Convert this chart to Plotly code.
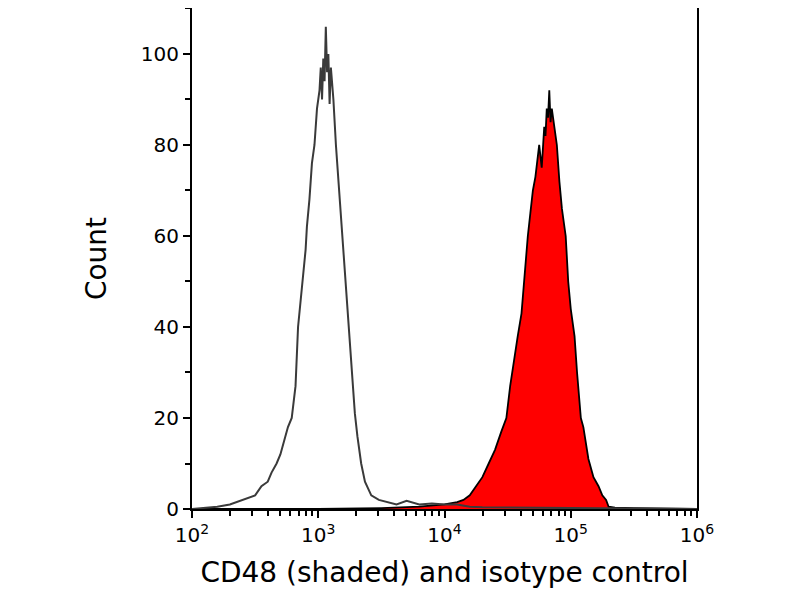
import plotly.graph_objects as go

# isotype control (unshaded), log10 fluorescence vs count
iso_logx = [2.0, 2.1, 2.2, 2.3, 2.35, 2.4, 2.45, 2.5, 2.55, 2.6, 2.63, 2.67, 2.7, 2.73, 2.76, 2.79, 2.82, 2.84,
            2.87, 2.9, 2.91, 2.93, 2.95, 2.97, 2.99, 3.01, 3.02, 3.03, 3.04, 3.05, 3.06, 3.07, 3.08, 3.09, 3.1,
            3.12, 3.14, 3.16, 3.19, 3.21, 3.23, 3.25, 3.27, 3.29, 3.31, 3.34, 3.37, 3.42, 3.48, 3.55, 3.62,
            3.7, 3.8, 3.9, 4.0, 4.1, 4.2, 4.3, 4.5, 4.8, 5.0, 5.5, 6.0]
iso_y = [0, 0.3, 0.5, 1, 1.5, 2, 2.5, 3, 5, 6, 8, 10, 12, 15, 18, 20, 27, 40,
         48, 57, 62, 68, 76, 80, 88, 92, 97, 90, 99, 94, 106, 96, 100, 89, 97,
         90, 80, 72, 60, 54, 46, 38, 30, 21, 16, 10, 6, 3, 2, 1.5, 1,
         1.8, 1, 1.2, 1, 1, 0.5, 0.4, 0.3, 0.2, 0.2, 0.1, 0]

# CD48 (shaded)
cd_logx = [2.0, 3.0, 3.5, 3.8, 4.0, 4.1, 4.15, 4.2, 4.25, 4.3, 4.35, 4.4, 4.45, 4.49, 4.52, 4.55, 4.58, 4.61,
           4.63, 4.66, 4.68, 4.7, 4.72, 4.74, 4.75, 4.77, 4.79, 4.8, 4.81, 4.82, 4.83, 4.84, 4.85, 4.87,
           4.89, 4.91, 4.93, 4.96, 4.98, 5.0, 5.03, 5.05, 5.08, 5.1, 5.14, 5.18, 5.22, 5.25, 5.28, 5.3,
           5.35, 5.5, 5.8, 6.0]
cd_y = [0, 0, 0.2, 0.5, 1, 1.5, 2, 3, 5, 7, 10, 13, 17, 20, 27, 32, 38, 43,
        50, 60, 65, 70, 73, 77, 80, 75, 84, 82, 88, 86, 92, 85, 88, 84,
        80, 72, 66, 60, 50, 44, 38, 30, 20, 18, 11, 7, 5, 3, 2, 0.5,
        0.3, 0.2, 0.1, 0]

xt_major = [100, 1000, 10000, 100000, 1000000]
xt_text = ["10<sup>2</sup>", "10<sup>3</sup>", "10<sup>4</sup>", "10<sup>5</sup>", "10<sup>6</sup>"]
x_minor = [m * 10 ** e for e in range(2, 6) for m in range(2, 10)]

cd_x = [10 ** v for v in cd_logx]
iso_x = [10 ** v for v in iso_logx]

fig = go.Figure()
fig.add_trace(go.Scatter(x=cd_x, y=cd_y, mode="lines", fill="tozeroy", fillcolor="#ff0000",
                         line=dict(color="black", width=1.8)))
fig.add_trace(go.Scatter(x=iso_x, y=iso_y, mode="lines", line=dict(color="#3a3a3a", width=2)))

font = "DejaVu Sans"
fig.update_layout(
    width=800, height=600, showlegend=False,
    plot_bgcolor="white", paper_bgcolor="white",
    margin=dict(l=184, r=111, t=0, b=99, pad=0),
    font=dict(family=font, color="black"),
)
fig.update_xaxes(type="log", range=[2, 6], tickvals=xt_major, ticktext=xt_text, automargin=False,
                 ticks="outside", ticklen=7, tickwidth=2, tickcolor="black",
                 showline=True, linecolor="black", linewidth=2, mirror=True, showgrid=False, zeroline=False,
                 tickfont=dict(size=20),
                 minor=dict(tickvals=x_minor, ticks="outside", ticklen=5, tickwidth=1.5, tickcolor="black", showgrid=False),
                 title=dict(text="CD48 (shaded) and isotype control", font=dict(size=28), standoff=16))
fig.update_yaxes(range=[0, 110.1], tickvals=[0, 20, 40, 60, 80, 100], automargin=False,
                 ticks="outside", ticklen=7, tickwidth=2, tickcolor="black",
                 showline=True, linecolor="black", linewidth=2, mirror=True, showgrid=False, zeroline=False,
                 tickfont=dict(size=20),
                 minor=dict(dtick=10, ticks="outside", ticklen=5, tickwidth=1.5, tickcolor="black", showgrid=False),
                 title=dict(text="Count", font=dict(size=28), standoff=26))
fig.write_html("out.html")
